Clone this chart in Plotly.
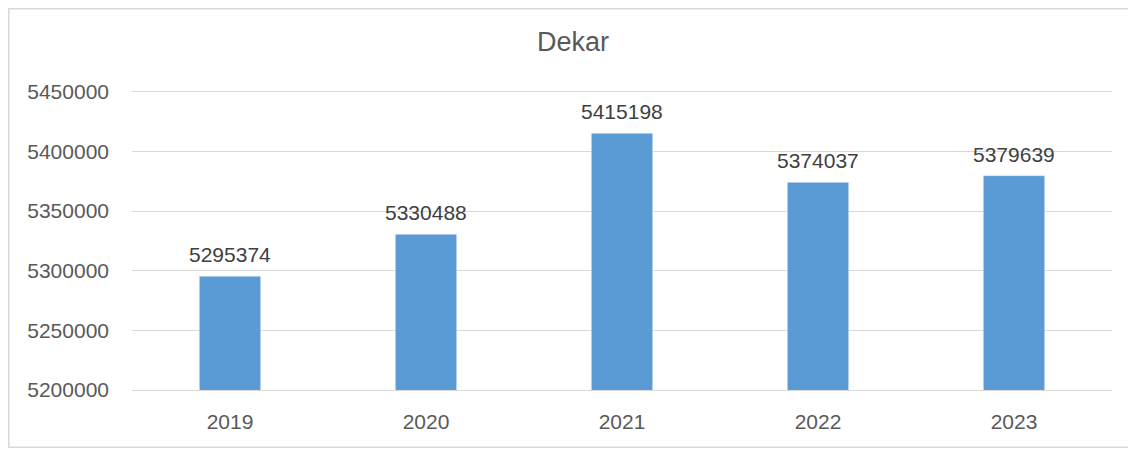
import plotly.graph_objects as go

years = ["2019", "2020", "2021", "2022", "2023"]
dekar = [5295374, 5330488, 5415198, 5374037, 5379639]

tick_vals = [5200000, 5250000, 5300000, 5350000, 5400000, 5450000]

# The page adds an 8px body margin, so the figure is 16px smaller than the window
W, H = 1120, 440
L, R, T, B = 124, 16, 82, 58
pw, ph = W - L - R, H - T - B

fig = go.Figure(
    go.Bar(
        x=years,
        y=dekar,
        marker_color="#5b9bd5",
        hoverinfo="x+y",
    )
)

# Value labels above each bar (x given as category index, since the
# year strings look numeric and would be read as indices)
for i, v in enumerate(dekar):
    fig.add_annotation(
        x=i, y=v, text=str(v), showarrow=False,
        yanchor="bottom", yshift=8,
        font=dict(size=21, color="#404040"),
    )

fig.update_layout(
    width=W,
    height=H,
    margin=dict(l=L, r=R, t=T, b=B),
    paper_bgcolor="white",
    plot_bgcolor="white",
    font=dict(family="Liberation Sans, Arial, sans-serif", color="#595959", size=21),
    title=dict(text="Dekar", x=565 / W, xanchor="center", y=1 - 34 / H, yanchor="middle",
               font=dict(size=27, color="#595959")),
    bargap=0.687,
    showlegend=False,
)
# a little headroom above 5450000 so its gridline isn't clipped at the edge
fig.update_yaxes(
    range=[5199900, 5451500],
    tickvals=tick_vals,
    ticktext=[str(v) for v in tick_vals],
    showgrid=True,
    gridcolor="#d9d9d9",
    gridwidth=1,
    zeroline=False,
    ticks="",
    ticklabelstandoff=22,
    tickfont=dict(size=21, color="#595959"),
)
fig.update_xaxes(
    type="category",
    showline=True,
    linecolor="#d9d9d9",
    linewidth=1,
    ticks="",
    tickfont=dict(size=21, color="#595959"),
    ticklabelstandoff=13,
)

# Chart border (Excel-style frame); right edge runs off the page like the reference
fig.add_shape(
    type="rect", xref="paper", yref="paper",
    x0=(0.75 - L) / pw, x1=(W + 40 - L) / pw,
    y0=-(B - 0.75) / ph, y1=1 + (T - 0.75) / ph,
    line=dict(color="#d9d9d9", width=1.5), fillcolor="rgba(0,0,0,0)",
    layer="below",
)

fig.write_html("out.html")
